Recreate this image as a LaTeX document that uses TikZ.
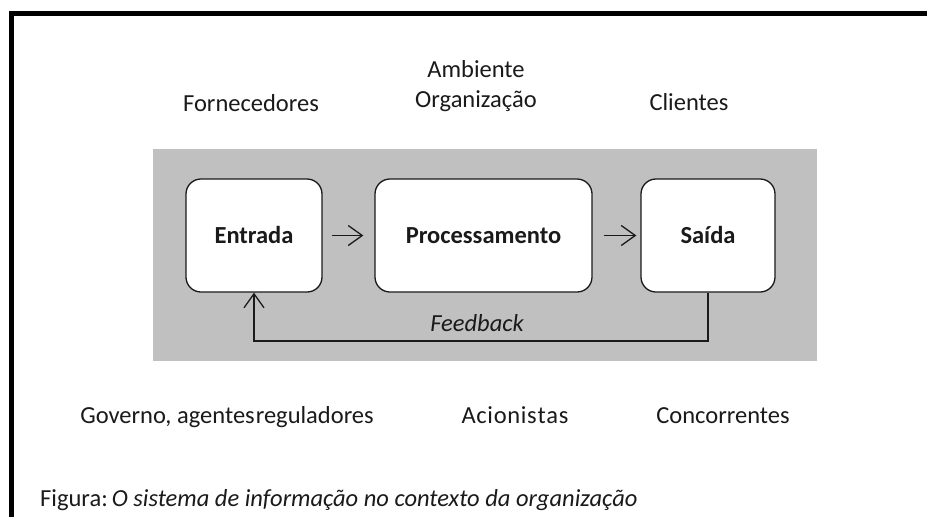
\documentclass[tikz,border=0pt]{standalone}
\usepackage{fontspec}
\setmainfont{Carlito}
\usetikzlibrary{arrows.meta}
\definecolor{panel}{HTML}{C0C0C0}
\definecolor{ink}{HTML}{1A1A1A}
\begin{document}
\begin{tikzpicture}[x=1pt,y=-1pt,
  txt/.style={font=\fontsize{24.5}{30}\selectfont, text=ink, inner sep=0pt, align=center, anchor=base},
  blk/.style={draw=ink, line width=1.3pt, fill=white, rounded corners=15pt, minimum height=113pt, font=\fontsize{24.5}{29}\selectfont\bfseries, text=ink, inner sep=0pt, text height=15.5pt, text depth=0pt},
  arr/.style={draw=ink, line width=1.3pt, -{Straight Barb[length=14pt,width=20pt,line width=1.3pt]}}
]
\useasboundingbox (0,0) rectangle (927,517);
\fill[white] (0,0) rectangle (927,517);
% frame
\draw[line width=5pt] (11.5,517) -- (11.5,13.5) -- (927,13.5);
% panel
\fill[panel] (153,149) rectangle (817,361);
% blocks
\node[blk, minimum width=136pt] (entrada) at (254,235.5) {Entrada};
\node[blk, minimum width=217pt] (proc) at (483.5,235.5) {Processamento};
\node[blk, minimum width=134pt] (saida) at (708,235.5) {Saída};
\draw[arr, shorten <=9pt, shorten >=11pt] (entrada) -- (proc);
\draw[arr, shorten <=11pt, shorten >=4pt] (proc) -- (saida);
\coordinate (fb) at (480,341);
\draw[arr] (saida.south) |- (fb) -| (entrada.south);
\node[txt, font=\fontsize{24.5}{29}\selectfont\itshape] (fbl) at (477,331) {Feedback};
% labels
\node[txt] (forn) at (251,111) {Fornecedores};
\node[txt] (amb) at (476,107) {Ambiente\\Organização};
\node[txt] (cli) at (689,110) {Clientes};
\node[txt] (gov) at (227,423) {Governo, agentes\hspace{1pt}reguladores};
\node[txt] (acio) at (515,423) {A\kern.7pt c\kern.7pt i\kern.7pt o\kern.7pt n\kern.7pt i\kern.7pt s\kern.7pt t\kern.7pt a\kern.7pt s};
\node[txt] (conc) at (723,423) {Concorrentes};
\node[txt, anchor=base west] (cap) at (40,506) {Figura:\hspace{4pt}\textit{O sistema de informação no contexto da organização}};
\end{tikzpicture}
\end{document}
